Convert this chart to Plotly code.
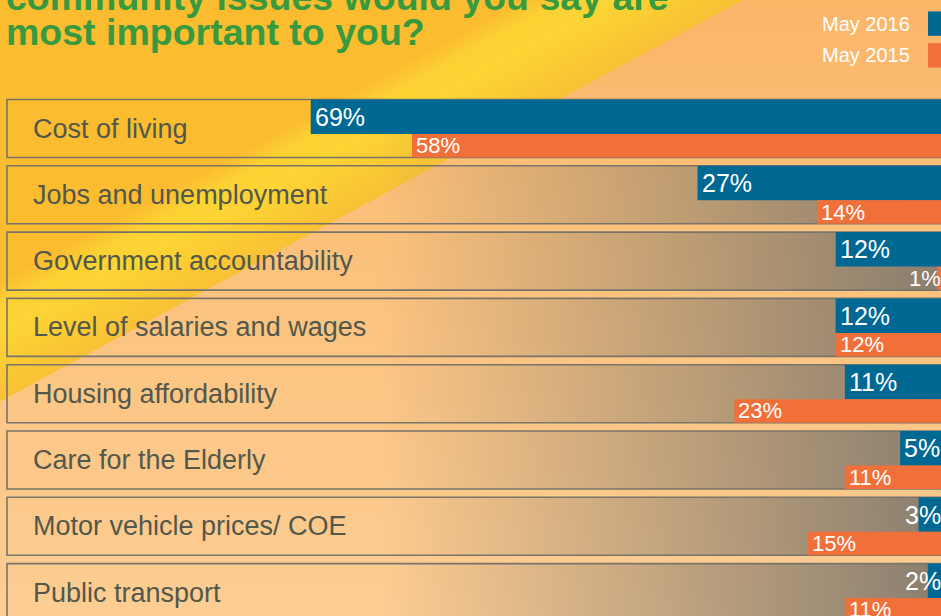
import plotly.graph_objects as go

# ---------------- data ----------------
CATEGORIES = [
    "Cost of living",
    "Jobs and unemployment",
    "Government accountability",
    "Level of salaries and wages",
    "Housing affordability",
    "Care for the Elderly",
    "Motor vehicle prices/ COE",
    "Public transport",
]
MAY_2016 = [69, 27, 12, 12, 11, 5, 3, 2]
MAY_2015 = [58, 14, 1, 12, 23, 11, 15, 11]
SERIES = ["May 2016", "May 2015"]
TITLE_LINES = ["community issues would you say are", "most important to you?"]

# ---------------- style / layout constants ----------------
W, H = 941, 616
BLUE = "#006993"
ORANGE = "#f1703a"
TITLE_GREEN = "#389a3e"
LABEL_GREY = "#52584c"
FONT = "Liberation Sans, Arial, Helvetica, sans-serif"

ROW0, PITCH, HALF = 128.5, 66.3, 29.0        # row centre (px), row pitch (px), half box height (px)
PX_PER_PCT, ZERO_PX = 9.21, 946.2            # horizontal scale of the value axis
BLUE_OFF = -HALF / PITCH
BLUE_W = 34.5 / PITCH
ORANGE_OFF = BLUE_OFF + BLUE_W
ORANGE_W = 2 * HALF / PITCH - BLUE_W
SLOPE = 1.85                                   # diagonal of the background stripes


def hex2rgb(h):
    h = h.lstrip("#")
    return tuple(int(h[i:i + 2], 16) for i in (0, 2, 4))


def mix(c1, c2, t):
    a, b = hex2rgb(c1), hex2rgb(c2)
    return "rgb(%d,%d,%d)" % tuple(round(a[i] + (b[i] - a[i]) * t) for i in range(3))


fig = go.Figure()

# ---- background: peach vertical gradient ----
fig.add_trace(go.Scatter(
    x=[0, W, W, 0, 0], y=[0, 0, H, H, 0], fill="toself", mode="none",
    fillgradient=dict(type="vertical", start=0, stop=H,
                      colorscale=[[0, "#fbb567"], [0.28, "#fbbf77"], [1, "#fdcd93"]]),
    hoverinfo="skip", showlegend=False))

# ---- background: yellow diagonal stripes ----
stops = [(-1400, "#fbbb30"), (525, "#fbbe30"), (565, "#fcd233"),
         (620, "#fcd434"), (680, "#fbcb33"), (742, "#f9c136")]
for (u0, c0), (u1, c1) in zip(stops[:-1], stops[1:]):
    n = 1 if u0 < 0 else 8
    for k in range(n):
        a = u0 + (u1 - u0) * k / n
        b = u0 + (u1 - u0) * (k + 1) / n + 0.8
        col = mix(c0, c1, (k + 0.5) / n)
        fig.add_trace(go.Scatter(
            x=[a, b, b - SLOPE * H, a - SLOPE * H, a], y=[0, 0, H, H, 0],
            fill="toself", mode="none", fillcolor=col,
            hoverinfo="skip", showlegend=False))

# ---- row boxes: darkening gradient + border ----
bx, by = [], []
for i, _ in enumerate(CATEGORIES):
    top = ROW0 + PITCH * i - HALF
    bot = ROW0 + PITCH * i + HALF
    fig.add_trace(go.Scatter(
        x=[7, W + 10, W + 10, 7, 7], y=[top, top, bot, bot, top],
        fill="toself", mode="none",
        fillgradient=dict(type="horizontal", start=380, stop=W,
                          colorscale=[[0, "rgba(125,118,108,0)"], [1, "rgba(125,118,108,0.9)"]]),
        hoverinfo="skip", showlegend=False))
    bx += [W + 10, 7, 7, W + 10, None]
    by += [top, top, bot, bot, None]
fig.add_trace(go.Scatter(x=bx, y=by, mode="lines", line=dict(color="#78746c", width=1.6),
                         hoverinfo="skip", showlegend=False))

# ---- bars ----
fig.add_trace(go.Bar(
    y=CATEGORIES, x=MAY_2016, orientation="h", name=SERIES[0],
    xaxis="x2", yaxis="y2", width=BLUE_W, offset=BLUE_OFF,
    marker=dict(color=BLUE, line=dict(width=0)), hoverinfo="skip"))
fig.add_trace(go.Bar(
    y=CATEGORIES, x=MAY_2015, orientation="h", name=SERIES[1],
    xaxis="x2", yaxis="y2", width=ORANGE_W, offset=ORANGE_OFF,
    marker=dict(color=ORANGE, line=dict(width=0)), hoverinfo="skip"))

ann = []
# category labels
for i, cat in enumerate(CATEGORIES):
    ann.append(dict(text=cat, x=31, y=i, xref="x", yref="y2", xanchor="left", yanchor="middle",
                    showarrow=False, font=dict(family=FONT, size=27, color=LABEL_GREY)))

# value labels
for vals, off, w, size in ((MAY_2016, BLUE_OFF, BLUE_W, 25), (MAY_2015, ORANGE_OFF, ORANGE_W, 22)):
    for i, v in enumerate(vals):
        yy = i + off + w / 2
        if v < 4:
            ann.append(dict(text=f"{v}%", x=1, xref="paper", y=yy, yref="y2", xanchor="right",
                            xshift=2, yanchor="middle", showarrow=False,
                            font=dict(family=FONT, size=size, color="white")))
        else:
            ann.append(dict(text=f"{v}%", x=v, xref="x2", y=yy, yref="y2", xanchor="left",
                            xshift=2, yanchor="middle", showarrow=False,
                            font=dict(family=FONT, size=size, color="white")))

# title (cropped top line + second line), placed in paper coordinates
for line, yc in zip(TITLE_LINES, (-3.5, 32)):
    ann.append(dict(text="<b>%s</b>" % line, x=4 / W, y=1 - yc / H, xref="paper", yref="paper",
                    xanchor="left", yanchor="middle", showarrow=False,
                    font=dict(family=FONT, size=37.5, color=TITLE_GREEN)))

# legend (text left of swatch)
shapes = []
for k, (name, col) in enumerate(zip(SERIES, [BLUE, ORANGE])):
    yc = 23.6 + 31.8 * k
    ann.append(dict(text=name, x=912, y=yc, xref="x", yref="y", xanchor="right", yanchor="middle",
                    showarrow=False, font=dict(family=FONT, size=20, color="white")))
    shapes.append(dict(type="rect", xref="x", yref="y", x0=928, x1=W + 5, y0=yc - 12.2, y1=yc + 12.2,
                       fillcolor=col, line=dict(width=0), layer="above"))

fig.update_layout(
    width=W, height=H, margin=dict(l=0, r=0, t=0, b=0, pad=0),
    paper_bgcolor="#fcc27a", plot_bgcolor="rgba(0,0,0,0)",
    showlegend=False, barmode="overlay", hovermode=False,
    xaxis=dict(range=[0, W], domain=[0, 1], visible=False, fixedrange=True),
    yaxis=dict(range=[H, 0], domain=[0, 1], visible=False, fixedrange=True),
    xaxis2=dict(range=[ZERO_PX / PX_PER_PCT, (ZERO_PX - W) / PX_PER_PCT], overlaying="x",
                anchor="y2", visible=False, fixedrange=True),
    yaxis2=dict(type="category", categoryorder="array", categoryarray=CATEGORIES,
                range=[(H - ROW0) / PITCH, -ROW0 / PITCH], overlaying="y", anchor="x2",
                visible=False, fixedrange=True),
    annotations=ann, shapes=shapes,
)

fig.write_html("out.html", config={"displayModeBar": False},
               post_script="document.body.style.margin='0';document.body.style.overflow='hidden';")
